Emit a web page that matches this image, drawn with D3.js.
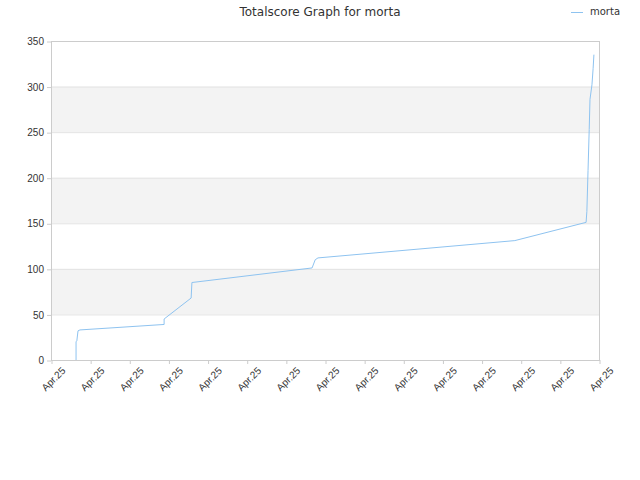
<!DOCTYPE html>
<html><head><meta charset="utf-8">
<script src="https://cdn.jsdelivr.net/npm/d3@7"></script>
<style>body{margin:0;background:#fff;font-family:"DejaVu Sans",sans-serif;}</style>
</head><body><svg id="chart"></svg>
<script>
const tickLabels = d3.range(15).map(() => "Apr.25");
const days = [0.64,0.64,0.66,0.69,0.74,2.89,2.89,3.58,3.60,6.67,6.75,6.82,11.85,13.67,13.69,13.72,13.75,13.77,13.82,13.85,13.87];
const scores = [0,20,21,32,33,39,45,68,85,101,110,112,131,151,163,208,253,286,302,320,335];
const yTicks = [0,50,100,150,200,250,300,350];

const width = 640, height = 480;
const svg = d3.select("#chart").attr("width", width).attr("height", height);
const x = d3.scaleLinear().domain([0, 14]).range([51, 599]);
const y = d3.scaleLinear().domain([0, 350]).range([360, 41]);

// alternating bands
[[50,100],[150,200],[250,300]].forEach(b => {
    svg.append("rect").attr("x", 51).attr("width", 548)
        .attr("y", y(b[1])).attr("height", y(b[0]) - y(b[1]))
        .attr("fill", "#f3f3f3");
});
yTicks.forEach(t => {
    svg.append("line").attr("x1", 51).attr("x2", 599)
        .attr("y1", y(t) + 0.5).attr("y2", y(t) + 0.5)
        .attr("stroke", "#e3e3e3");
});
svg.append("rect").attr("x", 51.5).attr("y", 41.5).attr("width", 548).attr("height", 319)
    .attr("fill", "none").attr("stroke", "#ccc");

const yAxis = svg.append("g").attr("transform", "translate(51,0.5)")
    .call(d3.axisLeft(y).tickValues(yTicks).tickSize(4));
yAxis.select(".domain").remove();
yAxis.selectAll("line").attr("stroke", "#ccc");
yAxis.selectAll("text").attr("fill", "#333").style("font-size", "10px");

const xAxis = svg.append("g").attr("transform", "translate(0.5,360)")
    .call(d3.axisBottom(x).tickValues(d3.range(15)).tickSize(4).tickFormat((d, i) => tickLabels[i]));
xAxis.select(".domain").remove();
xAxis.selectAll("line").attr("stroke", "#ccc");
xAxis.selectAll("text").attr("fill", "#333").style("font-size", "10px")
    .attr("text-anchor", "end").attr("dx", "0.2em").attr("dy", "1.1em")
    .attr("transform", "rotate(-45)");

const line = d3.line().x((d, i) => x(days[i])).y(d => y(d));
svg.append("path").datum(scores).attr("d", line)
    .attr("fill", "none").attr("stroke", "#8ec3f0").attr("stroke-width", 1);

svg.append("text").attr("x", 320).attr("y", 16).attr("text-anchor", "middle")
    .attr("fill", "#333").style("font-size", "12px").text("Totalscore Graph for morta");
svg.append("line").attr("x1", 571).attr("x2", 583).attr("y1", 12.5).attr("y2", 12.5)
    .attr("stroke", "#8ec3f0");
svg.append("text").attr("x", 590).attr("y", 15).attr("fill", "#333")
    .style("font-size", "10px").text("morta");
</script></body></html>
